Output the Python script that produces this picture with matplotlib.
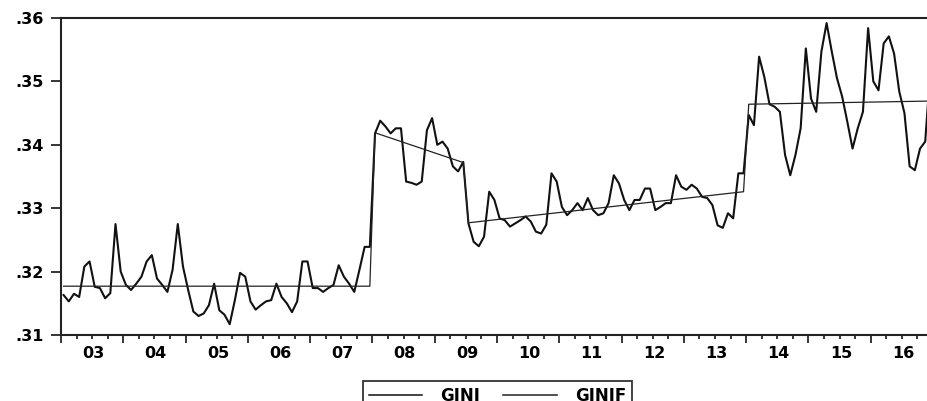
import numpy as np
import pandas as pd
import matplotlib
matplotlib.use('Agg')
import matplotlib.pyplot as plt
from matplotlib.ticker import FixedLocator

plt.rcParams['font.family'] = ['DejaVu Sans']
plt.rcParams['font.weight'] = 'bold'

# monthly GINI, 2003M01 - 2016M12
gini_2003 = [0.3163, 0.3153, 0.3165, 0.3160, 0.3208, 0.3216, 0.3176, 0.3174, 0.3158, 0.3166, 0.3275, 0.3200]
gini_2004 = [0.3179, 0.3171, 0.3181, 0.3192, 0.3216, 0.3226, 0.3189, 0.3179, 0.3168, 0.3203, 0.3275, 0.3208]
gini_2005 = [0.3171, 0.3137, 0.3130, 0.3134, 0.3147, 0.3181, 0.3139, 0.3132, 0.3117, 0.3155, 0.3198, 0.3192]
gini_2006 = [0.3153, 0.3140, 0.3147, 0.3153, 0.3155, 0.3181, 0.3160, 0.3150, 0.3136, 0.3153, 0.3216, 0.3216]
gini_2007 = [0.3174, 0.3174, 0.3168, 0.3174, 0.3179, 0.3210, 0.3192, 0.3181, 0.3168, 0.3203, 0.3239, 0.3239]
gini_2008 = [0.3418, 0.3438, 0.3429, 0.3418, 0.3426, 0.3426, 0.3342, 0.3340, 0.3337, 0.3342, 0.3423, 0.3442]
gini_2009 = [0.3400, 0.3405, 0.3394, 0.3366, 0.3358, 0.3373, 0.3276, 0.3247, 0.3240, 0.3255, 0.3326, 0.3313]
gini_2010 = [0.3284, 0.3281, 0.3271, 0.3276, 0.3281, 0.3287, 0.3279, 0.3263, 0.3260, 0.3274, 0.3355, 0.3342]
gini_2011 = [0.3302, 0.3289, 0.3297, 0.3308, 0.3297, 0.3316, 0.3297, 0.3289, 0.3292, 0.3308, 0.3352, 0.3339]
gini_2012 = [0.3313, 0.3297, 0.3313, 0.3313, 0.3331, 0.3331, 0.3297, 0.3302, 0.3308, 0.3308, 0.3352, 0.3334]
gini_2013 = [0.3329, 0.3337, 0.3331, 0.3318, 0.3316, 0.3305, 0.3273, 0.3269, 0.3292, 0.3284, 0.3355, 0.3355]
gini_2014 = [0.3447, 0.3431, 0.3539, 0.3507, 0.3464, 0.3460, 0.3452, 0.3384, 0.3352, 0.3384, 0.3426, 0.3552]
gini_2015 = [0.3473, 0.3452, 0.3547, 0.3592, 0.3547, 0.3505, 0.3476, 0.3436, 0.3394, 0.3426, 0.3452, 0.3584]
gini_2016 = [0.3500, 0.3486, 0.3560, 0.3571, 0.3544, 0.3484, 0.3450, 0.3366, 0.3360, 0.3394, 0.3405, 0.3520]

# fitted GINIF: piecewise linear, segment end points
ginif_months = ['2003-01', '2007-12', '2008-01', '2009-06', '2009-07', '2013-12', '2014-01', '2016-12']
ginif_values = [0.3177, 0.3177, 0.3419, 0.3372, 0.3277, 0.3326, 0.3464, 0.3469]

year_labels = ['03', '04', '05', '06', '07', '08', '09', '10', '11', '12', '13', '14', '15', '16']
ytick_vals = [0.31, 0.32, 0.33, 0.34, 0.35, 0.36]
ytick_labels = ['.31', '.32', '.33', '.34', '.35', '.36']

gini = (gini_2003 + gini_2004 + gini_2005 + gini_2006 + gini_2007 + gini_2008 + gini_2009
        + gini_2010 + gini_2011 + gini_2012 + gini_2013 + gini_2014 + gini_2015 + gini_2016)
per = pd.period_range('2003-01', periods=len(gini), freq='M')
x_gini = per.year + (per.month - 0.5) / 12

fper = pd.PeriodIndex(ginif_months, freq='M')
x_ginif = fper.year + (fper.month - 0.5) / 12

W, H = 927, 401
fig = plt.figure(figsize=(W / 100, H / 100), dpi=100)
ax = fig.add_axes([61 / W, 1 - 335 / H, 872 / W, 317 / H])

ax.plot(x_gini, gini, color='#111111', lw=1.5, label='GINI')
ax.plot(x_ginif, ginif_values, color='#222222', lw=0.9, label='GINIF')

ax.set_xlim(2003, 2017)
ax.set_ylim(0.31, 0.36)

ax.set_yticks(ytick_vals)
ax.set_yticklabels(ytick_labels, fontsize=11.5, fontweight='bold')
ax.tick_params(axis='y', length=7.2, width=1.1, pad=5)

years = np.arange(2003, 2018)
ax.xaxis.set_major_locator(FixedLocator(years))
quarters = [y + q / 4 for y in years[:-1] for q in (1, 2, 3)]
ax.xaxis.set_minor_locator(FixedLocator(quarters))
ax.set_xticklabels([])
ax.tick_params(axis='x', which='major', length=6, width=1.1)
ax.tick_params(axis='x', which='minor', length=3, width=1.1)

for k, lab in enumerate(year_labels):
    ax.text(2003.52 + k, -0.058, lab, transform=ax.get_xaxis_transform(),
            ha='center', va='center', fontsize=11.5, fontweight='bold')

for s in ['left', 'bottom', 'top']:
    ax.spines[s].set_linewidth(1.5)
    ax.spines[s].set_color('#222222')
ax.spines['right'].set_visible(False)

leg = fig.legend(loc='upper center', bbox_to_anchor=(497.5 / W, 1 - 381 / H), ncol=2,
                 fancybox=False, frameon=True, edgecolor='black', fontsize=12,
                 handlelength=3.2, handletextpad=1.1, columnspacing=1.4,
                 borderpad=0.35, borderaxespad=0)
leg.get_frame().set_linewidth(1.3)
for t in leg.get_texts():
    t.set_fontweight('bold')
for h in leg.legend_handles:
    h.set_linewidth(1.1)

fig.savefig('out.png', dpi=100)
